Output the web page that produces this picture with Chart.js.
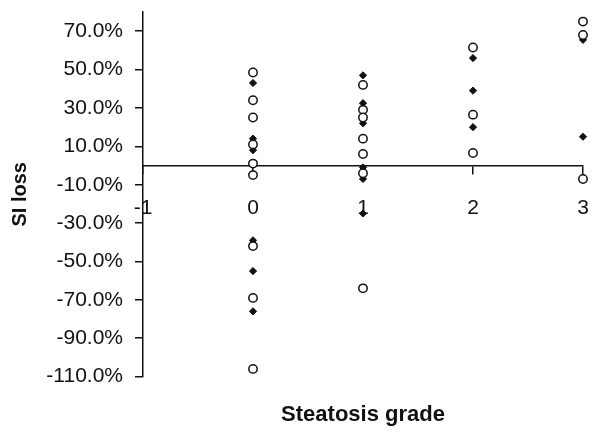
<!DOCTYPE html>
<html>
<head>
<meta charset="utf-8">
<script src="https://cdn.jsdelivr.net/npm/chart.js@4/dist/chart.umd.min.js"></script>
<style>
  html, body { margin: 0; padding: 0; background: #fff; }
  #wrap { width: 602px; height: 433px; }
</style>
</head>
<body>
<div id="wrap"><canvas id="scatterCanvas"></canvas></div>
<script>
// grades on x, SI loss (%) on y
const circleGrades = [0, 0, 0, 0, 0, 0, 0, 0, 0, 1, 1, 1, 1, 1, 1, 1, 2, 2, 2, 3, 3, 3];
const circleLoss = [48.5, 34, 25, 11, 1, -5, -42, -69, -106, 42, 29, 25, 14, 6, -4, -64, 61.5, 26.5, 6.5, 75, 68, -7];
const diamondGrades = [0, 0, 0, 0, 0, 0, 0, 0, 0, 1, 1, 1, 1, 1, 1, 1, 2, 2, 2, 3, 3];
const diamondLoss = [43, 25, 14, 8, 1, -5, -39, -55, -76, 47, 32.5, 22, 6, -1, -7, -25, 56, 39, 20, 65.5, 15];
const yTickValues = [-110, -90, -70, -50, -30, -10, 10, 30, 50, 70];

function toPoints(xs, ys) {
    return xs.map(function (x, i) { return { x: x, y: ys[i] }; });
}

// let the layout padding alone decide where the plot sits
function noLabelPadding(axis) {
    axis.paddingTop = 0;
    axis.paddingBottom = 0;
    axis.paddingLeft = 0;
    axis.paddingRight = 0;
}

const ink = '#111';
const ctx = document.getElementById('scatterCanvas').getContext('2d');
const scatterChart = new Chart(ctx, {
    type: 'scatter',
    data: {
        datasets: [{
            label: 'open',
            data: toPoints(circleGrades, circleLoss),
            pointStyle: 'circle',
            pointRadius: 4.2,
            backgroundColor: '#fff',
            borderColor: ink,
            borderWidth: 1.5,
            clip: false
        }, {
            label: 'filled',
            data: toPoints(diamondGrades, diamondLoss),
            pointStyle: 'rectRot',
            pointRadius: 3.6,
            backgroundColor: ink,
            borderColor: ink,
            borderWidth: 1,
            clip: false
        }]
    },
    options: {
        responsive: true,
        maintainAspectRatio: false,
        animation: false,
        layout: { padding: { top: 12, right: 19, bottom: 3, left: 0 } },
        plugins: {
            legend: { display: false },
            tooltip: { enabled: false },
            title: {
                display: true,
                position: 'bottom',
                fullSize: false,
                text: 'Steatosis grade',
                color: ink,
                font: { family: 'Liberation Sans', size: 22, weight: 'bold' },
                padding: { top: 25, bottom: 2 }
            }
        },
        scales: {
            x: {
                type: 'linear',
                position: { y: 0 },
                min: -1,
                max: 3,
                afterFit: noLabelPadding,
                grid: { drawOnChartArea: false, drawTicks: true, tickLength: 8, color: ink, lineWidth: 1.5 },
                border: { display: true, color: ink, width: 1.5 },
                ticks: {
                    stepSize: 1,
                    padding: 22,
                    color: ink,
                    font: { family: 'Liberation Sans', size: 21 },
                    callback: function (v) { return String(v); }
                }
            },
            y: {
                type: 'linear',
                min: -110,
                max: 80,
                afterBuildTicks: function (axis) {
                    axis.ticks = yTickValues.map(function (v) { return { value: v }; });
                },
                afterFit: function (axis) {
                    axis.width = 143;
                    noLabelPadding(axis);
                },
                grid: { drawOnChartArea: false, drawTicks: true, tickLength: 8, color: ink, lineWidth: 1.5 },
                border: { display: true, color: ink, width: 1.5 },
                ticks: {
                    padding: 12,
                    color: ink,
                    font: { family: 'Liberation Sans', size: 21 },
                    callback: function (v) { return v.toFixed(1) + '%'; }
                },
                title: {
                    display: true,
                    text: 'SI loss',
                    color: ink,
                    font: { family: 'Liberation Sans', size: 20, weight: 'bold' },
                    padding: { top: 8, bottom: 0 }
                }
            }
        }
    }
});
</script>
</body>
</html>
